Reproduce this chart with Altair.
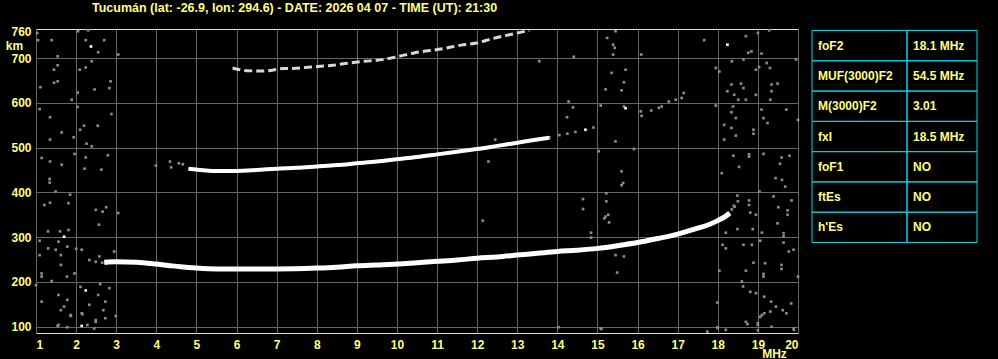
import altair as alt
import pandas as pd

YEL = "#ffff80"
BORDER = "#ffff00"
GRID = "#666666"
NOISE = "#8c8c8c"
CYAN = "#00d8e8"
FONT = "Liberation Sans"

title_text = "Tucumán (lat: -26.9, lon: 294.6) - DATE: 2026 04 07 - TIME (UT): 21:30"

x_ticks = list(range(1, 21))
y_ticks = [100, 200, 300, 400, 500, 600, 700, 760]

# ordinary (lower) F2 trace
low_f = [2.7, 3.0, 3.5, 4.0, 4.3, 4.6, 5.0, 5.5, 6.0, 7.0, 8.0, 8.5, 9.0, 9.5, 10.0, 10.5,
         11.0, 11.5, 12.0, 12.5, 13.0, 13.5, 14.0, 14.5, 15.0, 15.5, 16.0, 16.5, 17.0, 17.5,
         17.8, 18.0, 18.2, 18.3]
low_h = [244, 245, 244, 240, 237, 234, 231, 229, 229, 229, 231, 233, 236, 238, 240, 243,
         246, 249, 253, 256, 260, 264, 268, 271, 275, 281, 288, 297, 307, 320,
         329, 337, 347, 354]

# second-hop trace (~450 km)
mid_f = [4.8, 5.0, 5.5, 6.0, 6.5, 7.0, 7.5, 8.0, 8.5, 9.0, 9.5, 10.0, 10.5, 11.0, 11.5,
         12.0, 12.5, 13.0, 13.5, 13.8]
mid_h = [453, 451, 448, 448, 450, 453, 455, 458, 461, 465, 469, 474, 479, 485, 491,
         497, 504, 511, 518, 522]

# third-hop trace (~700 km)
top_f = [5.9, 6.25, 6.7, 7.2, 7.4, 7.85, 8.4, 8.8, 9.2, 9.5, 10.0, 10.45, 11.15, 11.6,
         11.95, 12.4, 12.9, 13.3]
top_h = [678, 672, 671, 677, 677, 680, 684, 689, 693, 695, 703, 712, 721, 729,
         733, 744, 754, 762]

# scattered echoes / noise
noise_f = [1.03, 1.39, 1.05, 2.05, 2.30, 2.24, 2.37, 2.55, 2.70, 1.54, 2.39, 1.45, 1.54, 2.09,
           2.24, 1.54, 1.45, 2.86, 1.11, 2.04, 2.46, 2.83, 1.89, 2.04, 1.09, 2.88, 1.35, 2.10,
           2.20, 2.54, 1.64, 1.35, 1.94, 2.26, 2.39, 1.14, 1.35, 1.64, 1.96, 2.24, 2.21, 2.63,
           2.79, 1.34, 1.34, 1.49, 1.85, 1.21, 1.35, 1.81, 2.49, 2.66, 2.75, 2.57, 1.30, 1.60,
           1.70, 1.81, 1.09, 1.56, 1.78, 1.30, 2.00, 2.14, 1.09, 1.49, 1.62, 2.33, 2.49, 2.58,
           2.95, 1.14, 1.14, 1.62, 1.77, 1.00, 1.39, 1.96, 2.11, 2.24, 2.55, 2.60, 2.83, 1.14,
           1.56, 1.62, 1.70, 1.78, 1.86, 2.14, 2.33, 2.49, 2.68, 2.73, 1.54, 1.78, 2.14, 2.28,
           2.45, 3.05, 3.05, 1.56, 1.87, 2.16, 2.49, 2.73, 2.99, 2.65, 2.75,
           3.99, 4.34, 4.37, 4.56, 4.66,
           12.28, 12.45, 14.24, 15.03, 12.14, 13.55,
           13.80, 14.05, 14.25, 14.45, 14.70, 14.90,
           16.08, 16.10, 16.34, 16.53, 16.60, 16.78, 16.95, 17.10, 17.15,
           18.35, 18.50,
           15.39, 15.39, 15.43, 15.24, 15.45, 16.09, 14.41, 17.66, 18.24, 18.70, 18.76, 18.84,
           19.00, 19.09, 19.28, 18.35, 17.95, 18.04, 18.64, 18.95, 19.03, 19.22, 19.30, 19.95,
           15.35, 15.70, 15.66, 15.60, 15.20, 18.34, 18.58, 18.64, 18.24, 18.41, 18.51, 18.70,
           18.95, 19.34, 19.49, 19.34, 19.31, 17.95, 18.38, 18.34, 18.45, 18.16, 18.34, 18.89,
           18.89, 18.45, 18.16, 19.09, 19.14, 19.24, 19.71, 20.00, 14.39, 15.08, 15.45, 15.91,
           15.60, 15.64, 15.60, 15.22, 15.22, 14.64, 14.64, 15.27, 15.17, 15.29, 14.84, 14.84,
           15.45, 15.66, 15.49, 18.10, 18.39, 18.53, 18.78, 18.78, 19.14, 19.59, 19.79, 19.44,
           19.60, 19.68, 19.04, 18.49, 18.42, 18.78, 18.78, 18.95, 18.81, 18.87, 19.39, 19.51,
           19.74, 19.84, 19.74, 19.49, 19.64, 19.64, 19.10, 18.49, 19.06, 18.12, 18.20, 18.64,
           18.85, 19.64, 19.77, 19.89, 18.89, 19.18, 19.59, 19.59, 18.04, 18.70, 19.14, 19.14,
           18.60, 18.63, 18.81, 18.95, 17.99, 19.16, 19.33, 19.45, 19.31, 19.62, 19.83, 19.71,
           19.06, 19.16, 18.70, 18.74, 19.00, 19.34, 19.89, 15.08, 17.99, 20.00, 14.28, 15.66,
           15.70, 19.55, 14.03, 15.10, 17.74, 18.00, 18.20, 19.00, 19.00, 19.10, 19.90, 15.20,
           18.40, 18.20]
noise_h = [756, 740, 740, 760, 762, 740, 726, 713, 740, 704, 693, 674, 684, 674,
           679, 648, 645, 648, 635, 623, 630, 633, 607, 591, 586, 575, 568, 540,
           549, 549, 534, 518, 523, 509, 503, 477, 469, 462, 486, 478, 453, 451,
           483, 430, 422, 402, 395, 372, 377, 376, 361, 357, 367, 328, 313, 313,
           301, 316, 292, 290, 279, 275, 274, 272, 260, 272, 260, 249, 245, 257,
           268, 219, 212, 238, 212, 193, 202, 219, 189, 181, 171, 195, 186, 156,
           171, 137, 145, 160, 126, 130, 149, 111, 137, 156, 102, 99, 102, 104,
           96, 708, 354, 104, 124, 128, 115, 119, 124, 243, 241,
           460, 469, 456, 465, 463,
           469, 518, 568, 492, 337, 693,
           523, 528, 531, 535, 540, 545,
           581, 571, 583, 589, 592, 603, 607, 611, 622,
           362, 380,
           730, 708, 723, 745, 760, 708, 703, 740, 730, 749, 712, 715,
           756, 710, 762, 693, 678, 670, 697, 674, 680, 689, 678, 697,
           667, 674, 646, 628, 630, 641, 643, 633, 626, 618, 607, 607,
           618, 641, 643, 626, 607, 594, 592, 579, 566, 551, 544, 540,
           531, 527, 518, 585, 566, 555, 585, 562, 590, 594, 514, 497,
           447, 421, 416, 398, 380, 385, 363, 350, 342, 333, 310, 299,
           260, 257, 221, 443, 482, 457, 480, 485, 486, 478, 482, 432,
           428, 413, 402, 393, 368, 382, 372, 350, 355, 318, 391, 367,
           360, 382, 350, 331, 309, 302, 310, 318, 292, 283, 275, 283,
           283, 288, 268, 272, 243, 242, 238, 229, 225, 225, 218, 212,
           201, 190, 178, 175, 154, 167, 156, 145, 134, 137, 152, 130,
           122, 130, 111, 106, 104, 100, 96, 96, 99, 212, 603, 592,
           588, 464, 99, 95, 89, 97, 93, 108, 92, 126, 93, 346,
           370, 310]
white_noise = {6, 56, 79, 96, 124, 145}  # indices of bright (white) echoes
noise_tone = ["w" if i in white_noise else "g" for i in range(len(noise_f))]
# the white dot in the right cluster
noise_tone[len(noise_f) - 14] = "w"

param_names = ["foF2", "MUF(3000)F2", "M(3000)F2", "fxI", "foF1", "ftEs", "h'Es"]
param_values = ["18.1 MHz", "54.5 MHz", "3.01", "18.5 MHz", "NO", "NO", "NO"]

low_df = pd.DataFrame({"f": low_f, "h": low_h})
mid_df = pd.DataFrame({"f": mid_f, "h": mid_h})
top_df = pd.DataFrame({"f": top_f, "h": top_h})
noise_df = pd.DataFrame({"f": noise_f, "h": noise_h, "tone": noise_tone})
table_df = pd.DataFrame({"row": list(range(len(param_names))), "name": param_names,
                         "value": param_values})

xenc = alt.X("f:Q", scale=alt.Scale(domain=[1, 20], nice=False, zero=False),
             axis=alt.Axis(values=x_ticks, title="MHz", titleX=738, titleY=20,
                           titleAngle=0, titleAlign="center", titleBaseline="middle",
                           labelBaseline="middle", labelPadding=11, labelAngle=0))
yenc = alt.Y("h:Q", scale=alt.Scale(domain=[86, 765], nice=False, zero=False),
             axis=alt.Axis(values=y_ticks, title="km", titleX=-22, titleY=16,
                           titleAngle=0, titleAlign="center", titleBaseline="middle",
                           labelPadding=5,
                           gridOpacity={"condition": {"test": "datum.value > 750", "value": 0},
                                        "value": 1}))

noise = alt.Chart(noise_df).mark_square(size=7, opacity=1).encode(
    x=xenc, y=yenc,
    color=alt.Color("tone:N", scale=alt.Scale(domain=["g", "w"], range=[NOISE, "#ffffff"]),
                    legend=None))
low = alt.Chart(low_df).mark_line(color="#ffffff", strokeWidth=5, interpolate="monotone").encode(
    x=xenc, y=yenc)
mid = alt.Chart(mid_df).mark_line(color="#ffffff", strokeWidth=4, interpolate="monotone").encode(
    x=xenc, y=yenc)
top = alt.Chart(top_df).mark_line(color="#d8d8d8", strokeWidth=3, interpolate="monotone",
                                  strokeDash=[8, 4]).encode(x=xenc, y=yenc)

plot = alt.layer(noise, low, mid, top)

ty = alt.Y("row:O", scale=alt.Scale(range=[1.5, 213.5], paddingInner=0, paddingOuter=0),
           axis=None)
tb = alt.Chart(table_df)
box_l = tb.mark_rect(fillOpacity=0, stroke=CYAN, strokeWidth=1).encode(
    y=ty, x=alt.value(776), x2=alt.value(871))
box_r = tb.mark_rect(fillOpacity=0, stroke=CYAN, strokeWidth=1).encode(
    y=ty, x=alt.value(871), x2=alt.value(941))
txt_l = tb.mark_text(align="left", baseline="middle", color=YEL, font=FONT, fontSize=12,
                     fontWeight="bold").encode(y=ty, x=alt.value(782), text="name:N")
txt_r = tb.mark_text(align="left", baseline="middle", color=YEL, font=FONT, fontSize=12,
                     fontWeight="bold").encode(y=ty, x=alt.value(877), text="value:N")
table = alt.layer(box_l, box_r, txt_l, txt_r)

chart = alt.layer(plot, table).resolve_scale(y="independent").properties(
    width=762, height=304,
    autosize=alt.AutoSizeParams(type="none"),
    padding={"left": 36, "top": 29, "right": 200, "bottom": 26},
    background="#000000",
    title=alt.TitleParams(title_text, anchor="start", frame="group", dx=56, offset=-3,
                          color=YEL, font=FONT, fontSize=12.5, fontWeight="bold",
                          baseline="bottom"),
).configure_view(
    stroke=BORDER, strokeWidth=1, fill="#000000"
).configure_axis(
    grid=True, gridColor=GRID, gridWidth=1, ticks=False, domain=False,
    labelColor=YEL, labelFont=FONT, labelFontSize=12, labelFontWeight="bold",
    titleColor=YEL, titleFont=FONT, titleFontSize=12, titleFontWeight="bold",
    labelOverlap=False
)

chart.save("out.html", embed_options={"renderer": "svg", "actions": False})
